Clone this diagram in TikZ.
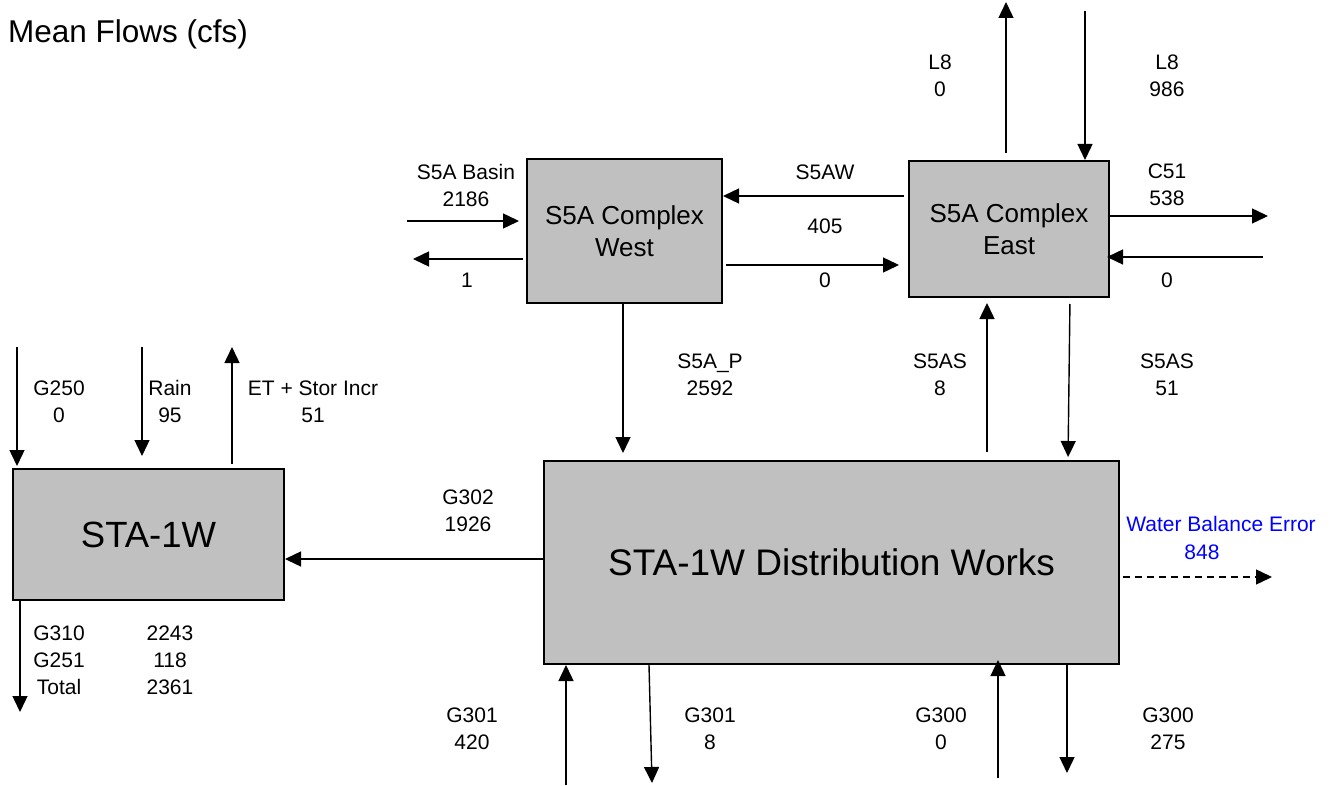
\documentclass[tikz,border=0pt]{standalone}
\usepackage{fontspec}
\setmainfont{Liberation Sans}
\usetikzlibrary{arrows.meta,calc}
\definecolor{boxgray}{RGB}{192,192,192}
\definecolor{wbblue}{RGB}{0,0,255}
\begin{document}
\begin{tikzpicture}[x=1pt,y=-1pt,
  box/.style={draw=black,fill=boxgray,line width=2pt,inner sep=0pt,align=center},
  flow/.style={line width=1.4pt,-{Triangle[length=16pt,width=15pt]}},
  lbl/.style={font=\fontsize{21}{27}\selectfont,align=center,inner sep=0pt},
  ]
\useasboundingbox (0,0) rectangle (1332,786);

% title
\node[font=\fontsize{31.5}{38}\selectfont,inner sep=0pt,anchor=base west] (title) at (8,42.7) {Mean Flows (cfs)};

% boxes
\node[box,minimum width=195pt,minimum height=144pt,font=\fontsize{26}{31.5}\selectfont] (W) at (624.5,231) {S5A Complex\\West};
\node[box,minimum width=200pt,minimum height=136pt,font=\fontsize{26}{31.5}\selectfont] (E) at (1009,229) {S5A Complex\\East};
\node[box,minimum width=271pt,minimum height=131pt,font=\fontsize{36.5}{44}\selectfont] (S) at (148.5,534.5) {STA-1W};
\node[box,minimum width=575pt,minimum height=203pt,font=\fontsize{37}{44}\selectfont] (D) at (831.5,562.5) {STA-1W Distribution Works};

% free-end coordinates
\coordinate (bin) at (407,221);
\coordinate (oneE) at (413,259);
\coordinate (s5aw) at (0,196);
\coordinate (we0) at (0,265);
\coordinate (l8up) at (1006,2);
\coordinate (l8dn) at (1085,11);
\coordinate (c51) at (1268,216);
\coordinate (e0) at (1263,257);
\coordinate (pX) at (623,300);
\coordinate (asu) at (987,0);
\coordinate (asd1) at (1070,0);
\coordinate (asd2) at (1068,0);
\coordinate (g302) at (0,559);
\coordinate (g250) at (17,347);
\coordinate (rain) at (142,347);
\coordinate (et) at (232,347);
\coordinate (g310) at (20,712);
\coordinate (g301i) at (566,785);
\coordinate (g301s) at (649,0);
\coordinate (g301o) at (652,783);
\coordinate (g300i) at (998,778);
\coordinate (g300o) at (1067,773);
\coordinate (wbe) at (1272,577);

% connectors
\draw[flow,shorten >=7pt] (bin) -- (bin -| W.west);
\draw[flow,shorten <=3pt] (oneE -| W.west) -- (oneE);
\draw[flow,shorten <=4pt] (s5aw -| E.west) -- (s5aw -| W.east);
\draw[flow,shorten <=3pt,shorten >=9pt] (we0 -| W.east) -- (we0 -| E.west);
\draw[flow,shorten <=7pt] (l8up |- E.north) -- (l8up);
\draw[flow] (l8dn) -- (l8dn |- E.north);
\draw[flow] (c51 -| E.east) -- (c51);
\draw[flow,shorten >=-3pt] (e0) -- (e0 -| E.east);
\draw[flow,shorten >=7pt] (pX |- W.south) -- (pX |- D.north);
\draw[flow,shorten <=8pt,shorten >=5pt] (asu |- D.north) -- (asu |- E.south);
\draw[flow,shorten <=6pt,shorten >=3pt] (asd1 |- E.south) -- (asd2 |- D.north);
\draw[flow] (g302 -| D.west) -- (g302 -| S.east);
\draw[flow,shorten >=2pt] (g250) -- (g250 |- S.north);
\draw[flow,shorten >=12pt] (rain) -- (rain |- S.north);
\draw[flow,shorten <=4pt] (et |- S.north) -- (et);
\draw[flow] (g310 |- S.south) -- (g310);
\draw[flow] (g301i) -- (g301i |- D.south);
\draw[flow] (g301s |- D.south) -- (g301o);
\draw[flow,shorten >=-5pt] (g300i) -- (g300i |- D.south);
\draw[flow] (g300o |- D.south) -- (g300o);
\draw[flow,dash pattern=on 7pt off 5pt,shorten <=3pt] (wbe -| D.east) -- (wbe);

% labels
\node[lbl] (lbasin) at (466,185.5) {S5A Basin\\2186};
\node[lbl] (lone) at (467,280) {1};
\node[lbl] (ls5aw) at (825,172) {S5AW};
\node[lbl] (l405) at (825,226) {405};
\node[lbl] (lwe0) at (825,280) {0};
\node[lbl] (ll8a) at (940,75.5) {L8\\0};
\node[lbl] (ll8b) at (1167,75.5) {L8\\986};
\node[lbl] (lc51) at (1167,184.5) {C51\\538};
\node[lbl] (le0) at (1167,280) {0};
\node[lbl] (lp) at (710,374.5) {S5A\_P\\2592};
\node[lbl] (las1) at (940,374.5) {S5AS\\8};
\node[lbl] (las2) at (1167,374.5) {S5AS\\51};
\node[lbl] (lg250) at (59,401.5) {G250\\0};
\node[lbl] (lrain) at (170,401.5) {Rain\\95};
\node[lbl] (let) at (313,401.5) {ET + Stor Incr\\51};
\node[lbl] (lg302) at (468,510.5) {G302\\1926};
\node[lbl] (lg310a) at (59,660) {G310\\G251\\Total};
\node[lbl] (lg310b) at (170,660) {2243\\118\\2361};
\node[lbl,text=wbblue] (lwbe) at (1221,524) {Water Balance Error};
\node[lbl,text=wbblue] (l848) at (1202,552) {848};
\node[lbl] (lg301a) at (472,729) {G301\\420};
\node[lbl] (lg301b) at (710,729) {G301\\8};
\node[lbl] (lg300a) at (941,729) {G300\\0};
\node[lbl] (lg300b) at (1168,729) {G300\\275};
\end{tikzpicture}
\end{document}
